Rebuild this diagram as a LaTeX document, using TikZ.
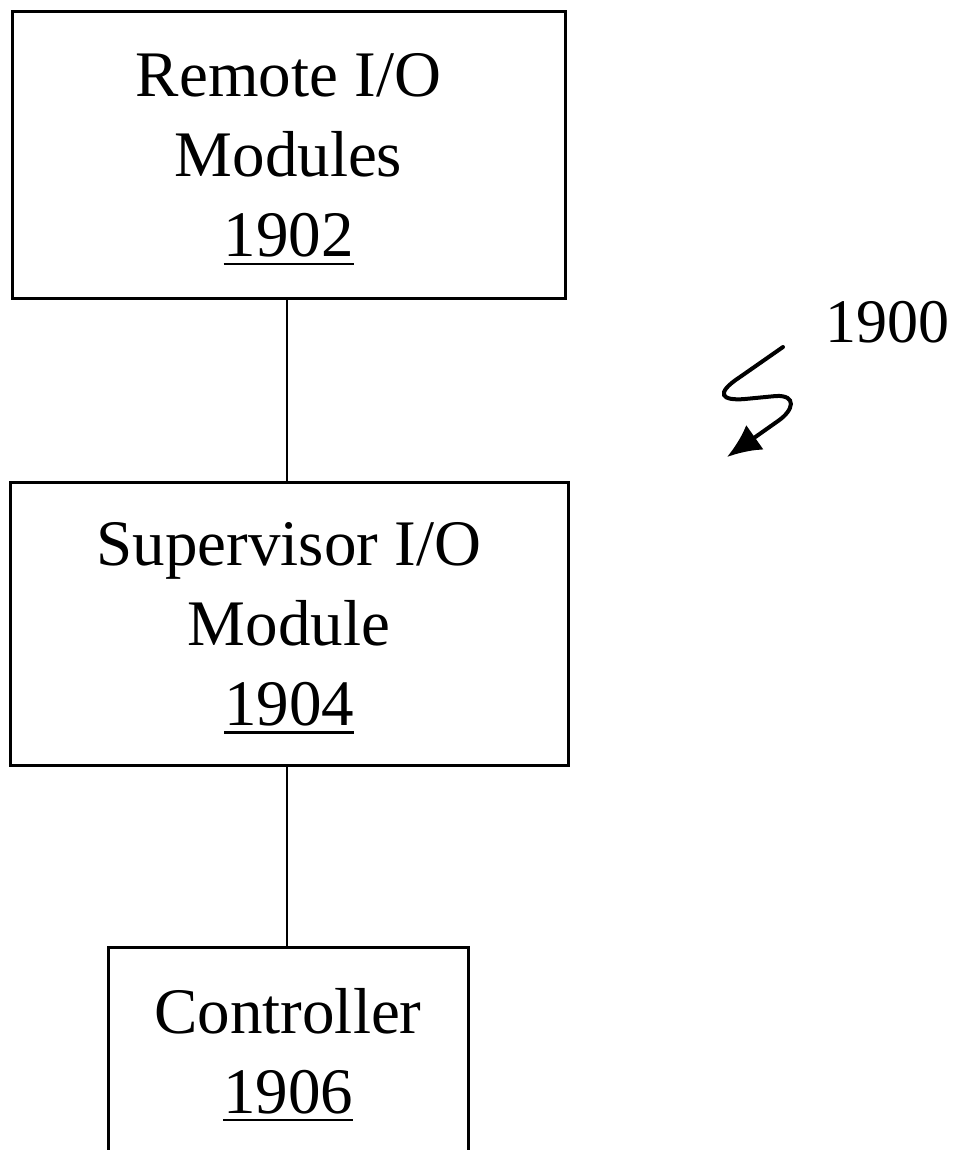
\documentclass[tikz,border=0pt]{standalone}
\usepackage{fontspec}
\setmainfont{Liberation Serif}
\usetikzlibrary{arrows.meta}
\newcommand\myul[1]{\setbox0\hbox{#1}\rlap{\rule[-8pt]{\wd0}{2.5pt}}\box0}
\newcommand\topstrut{\rule{0pt}{52pt}}
\begin{document}
\begin{tikzpicture}[x=1pt,y=-1pt,
  blk/.style={draw=black, line width=3pt, rectangle, align=center, inner sep=0pt,
    font=\fontsize{65}{80}\selectfont},
  link/.style={draw=black, line width=2pt},
  ref/.style={font=\fontsize{62}{70}\selectfont, anchor=base west, inner sep=0pt}]
\useasboundingbox (0,0) rectangle (954,1150);
\node[blk, minimum width=553pt, minimum height=286pt] (remote) at (288.5,155)
  {\topstrut Remote I/O\\Modules\\\myul{1902}};
\node[blk, minimum width=558pt, minimum height=283pt] (super) at (289,623.5)
  {\topstrut Supervisor I/O\\Module\\\myul{1904}};
\node[blk, minimum width=360pt, minimum height=216pt, text height=0pt, text depth=0pt] (ctrl) at (288,1055) {};
\node[font=\fontsize{65}{80}\selectfont, align=center, inner sep=0pt, anchor=base] (ctrltext) at (288,1113) {Controller\\\myul{1906}};
\draw[link] (287,0 |- remote.south) -- (287,0 |- super.north);
\draw[link] (287,0 |- super.south) -- (287,0 |- ctrl.north);
\node[ref] (lbl) at (825,342) {1900};
\coordinate (s0) at (783,347);
\coordinate (s1) at (727,457);
\draw[line width=4pt, line cap=round, -{Latex[length=34pt,width=30pt]}] (s0) -- (740,377) .. controls (714,394) and (722,401) .. (745,399) -- (776,396) .. controls (797,395) and (794,410) .. (778,421) -- (s1);
\end{tikzpicture}
\end{document}
